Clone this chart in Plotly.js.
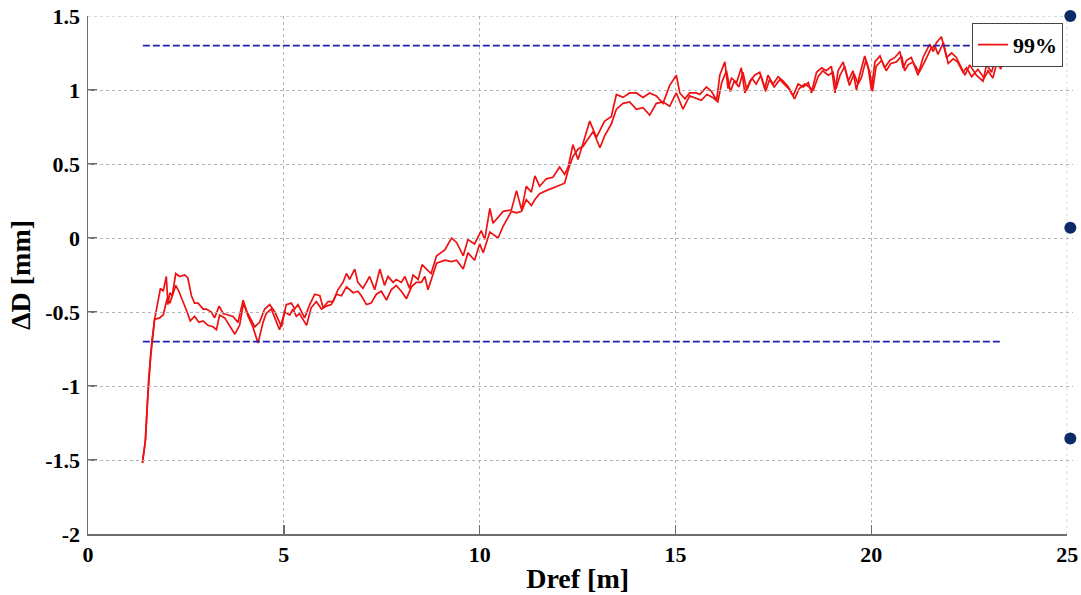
<!DOCTYPE html>
<html>
<head>
<meta charset="utf-8">
<script src="https://cdn.plot.ly/plotly-3.0.1.min.js"></script>
<style>html,body{margin:0;padding:0;background:#fff;}#chart{width:1081px;height:595px;}</style>
</head>
<body>
<div id="chart"></div>
<script>
// ---- data ----
const lineA_x = [1.39,1.42,1.46,1.52,1.60,1.70,1.85,1.92,2.00,2.04,2.09,2.15,2.24,2.34,2.47,2.55,2.64,2.72,2.81,2.94,3.02,3.15,3.23,3.35,3.45,3.58,3.70,3.83,3.96,4.06,4.17,4.26,4.38,4.51,4.64,4.77,4.94,5.06,5.19,5.28,5.36,5.45,5.53,5.66,5.79,5.92,6.00,6.13,6.26,6.38,6.51,6.60,6.68,6.81,6.89,7.02,7.11,7.19,7.32,7.45,7.57,7.66,7.79,7.87,8.00,8.09,8.21,8.30,8.43,8.53,8.64,8.76,8.90,9.11,9.28,9.41,9.58,9.70,9.87,10.04,10.13,10.26,10.34,10.60,10.81,10.94,11.07,11.19,11.32,11.41,11.53,11.70,11.87,12.04,12.17,12.26,12.38,12.51,12.64,12.81,12.98,13.19,13.36,13.49,13.66,13.83,14.00,14.17,14.34,14.51,14.68,14.85,15.02,15.11,15.24,15.36,15.53,15.62,15.79,15.92,16.05,16.13,16.26,16.34,16.43,16.56,16.68,16.77,16.90,17.02,17.15,17.28,17.36,17.49,17.62,17.75,17.88,18.00,18.13,18.26,18.39,18.47,18.60,18.73,18.85,18.98,19.07,19.15,19.28,19.41,19.53,19.62,19.70,19.83,19.92,20.00,20.09,20.22,20.34,20.47,20.60,20.73,20.81,20.90,21.02,21.19,21.32,21.49,21.58,21.66,21.79,21.92,22.05,22.17,22.30,22.39,22.51,22.68,22.85,22.94,23.07,23.19,23.28,23.38];
const lineA_y = [-1.52,-1.45,-1.38,-1.10,-0.80,-0.55,-0.34,-0.36,-0.26,-0.45,-0.37,-0.39,-0.24,-0.26,-0.25,-0.27,-0.39,-0.44,-0.44,-0.48,-0.48,-0.50,-0.54,-0.46,-0.51,-0.52,-0.53,-0.57,-0.42,-0.50,-0.55,-0.60,-0.57,-0.48,-0.45,-0.50,-0.60,-0.45,-0.44,-0.48,-0.45,-0.50,-0.54,-0.45,-0.38,-0.39,-0.47,-0.43,-0.43,-0.35,-0.30,-0.24,-0.28,-0.21,-0.30,-0.34,-0.30,-0.26,-0.35,-0.21,-0.32,-0.26,-0.30,-0.28,-0.30,-0.26,-0.34,-0.25,-0.28,-0.18,-0.21,-0.24,-0.12,-0.08,0.00,-0.03,-0.12,-0.01,-0.04,0.05,-0.01,0.20,0.10,0.18,0.19,0.32,0.19,0.35,0.31,0.42,0.35,0.40,0.41,0.48,0.43,0.48,0.63,0.53,0.64,0.79,0.68,0.79,0.82,0.97,0.95,0.98,0.98,0.95,0.98,0.96,0.91,1.03,1.10,0.98,0.94,0.98,0.98,0.97,1.02,0.99,0.93,1.10,1.19,1.01,1.08,1.05,1.15,0.98,1.06,1.10,1.12,1.01,1.10,1.04,1.09,1.06,1.02,0.96,1.04,1.02,1.05,0.98,1.12,1.15,1.13,1.16,0.98,1.13,1.19,1.06,1.13,1.00,1.10,1.23,1.15,1.00,1.19,1.23,1.15,1.20,1.22,1.26,1.15,1.20,1.22,1.10,1.22,1.31,1.26,1.32,1.36,1.22,1.25,1.22,1.15,1.10,1.17,1.10,1.06,1.17,1.12,1.24,1.17,1.16];

const lineB_x = [1.39,1.43,1.47,1.55,1.63,1.70,1.83,1.92,2.02,2.09,2.17,2.24,2.32,2.43,2.53,2.61,2.72,2.83,2.94,3.06,3.19,3.28,3.36,3.49,3.62,3.75,3.87,3.97,4.09,4.21,4.34,4.47,4.55,4.68,4.77,4.89,5.02,5.15,5.23,5.32,5.40,5.58,5.70,5.83,5.96,6.09,6.21,6.34,6.47,6.60,6.77,6.89,6.98,7.11,7.23,7.36,7.49,7.62,7.74,7.87,8.00,8.13,8.26,8.38,8.51,8.60,8.68,8.90,9.11,9.28,9.41,9.58,9.70,9.87,10.00,10.09,10.26,10.47,10.60,10.81,10.94,11.07,11.19,11.32,11.41,11.53,11.70,11.87,12.04,12.17,12.26,12.38,12.51,12.64,12.77,12.90,13.07,13.19,13.36,13.49,13.66,13.83,14.00,14.17,14.34,14.51,14.68,14.85,15.02,15.19,15.36,15.53,15.66,15.80,15.95,16.08,16.18,16.30,16.40,16.50,16.62,16.72,16.82,16.95,17.06,17.18,17.30,17.40,17.52,17.66,17.80,17.92,18.04,18.16,18.30,18.42,18.52,18.64,18.76,18.90,19.02,19.10,19.20,19.32,19.44,19.56,19.66,19.74,19.86,19.96,20.03,20.12,20.26,20.38,20.50,20.64,20.77,20.85,20.94,21.06,21.22,21.36,21.52,21.62,21.70,21.84,21.96,22.09,22.20,22.34,22.43,22.56,22.72,22.88,22.98,23.10,23.22,23.30,23.35];
const lineB_y = [-1.52,-1.42,-1.36,-0.95,-0.70,-0.55,-0.54,-0.52,-0.41,-0.44,-0.37,-0.32,-0.36,-0.43,-0.50,-0.56,-0.53,-0.57,-0.56,-0.59,-0.60,-0.62,-0.52,-0.54,-0.60,-0.65,-0.59,-0.44,-0.53,-0.60,-0.71,-0.57,-0.51,-0.48,-0.54,-0.62,-0.50,-0.52,-0.48,-0.53,-0.51,-0.59,-0.47,-0.43,-0.48,-0.46,-0.45,-0.38,-0.39,-0.33,-0.37,-0.36,-0.39,-0.45,-0.44,-0.38,-0.36,-0.42,-0.35,-0.32,-0.36,-0.41,-0.33,-0.30,-0.30,-0.26,-0.35,-0.17,-0.15,-0.16,-0.15,-0.21,-0.10,-0.15,-0.04,-0.10,0.04,0.00,0.08,0.18,0.17,0.18,0.26,0.22,0.26,0.30,0.32,0.34,0.36,0.37,0.46,0.55,0.60,0.62,0.67,0.72,0.61,0.69,0.77,0.87,0.91,0.92,0.87,0.88,0.83,0.91,0.92,0.89,0.98,0.87,0.96,0.94,0.93,0.97,0.95,0.92,1.05,1.13,0.99,1.06,1.02,1.12,1.00,1.08,1.04,1.10,0.99,1.07,1.02,1.07,1.03,1.00,0.94,1.01,1.04,1.02,1.00,1.09,1.13,1.10,1.12,1.01,1.10,1.16,1.03,1.11,1.04,1.08,1.20,1.12,0.99,1.16,1.20,1.13,1.18,1.19,1.23,1.13,1.17,1.19,1.12,1.19,1.28,1.30,1.24,1.32,1.18,1.21,1.19,1.12,1.15,1.09,1.14,1.08,1.13,1.08,1.20,1.14,1.18];

const limit_x = [1.40, 23.36];
const upperLimit = [1.30, 1.30];
const lowerLimit = [-0.70, -0.70];

const dot_x = [25.08, 25.08, 25.08];
const dot_y = [1.50, 0.07, -1.355];

const xRange = [0, 25];
const yRange = [-2, 1.5];
const xTickVals = [0, 5, 10, 15, 20, 25];
const xTickText = ["0", "5", "10", "15", "20", "25"];
const yTickVals = [-2, -1.5, -1, -0.5, 0, 0.5, 1, 1.5];
const yTickText = ["-2", "-1.5", "-1", "-0.5", "0", "0.5", "1", "1.5"];

const legendName = "99%";
const xTitle = "Dref [m]";
const yTitle = "ΔD [mm]";

// ---- chart ----
const FONT = "'Liberation Serif', 'Times New Roman', serif";
const red = "#ee1111";
const blue = "#2222aa";
const grid = "#b4b4b4";

// main x axis occupies part of the width; a hidden helper axis spans the full width
const mainFrac = 979.2 / 985;

const traces = [
  {x: lineA_x, y: lineA_y, type: "scatter", mode: "lines", name: legendName,
   line: {color: red, width: 1.7}, showlegend: true},
  {x: lineB_x, y: lineB_y, type: "scatter", mode: "lines", name: legendName,
   line: {color: red, width: 1.7}, showlegend: false},
  {x: limit_x, y: upperLimit, type: "scatter", mode: "lines", showlegend: false,
   line: {color: blue, width: 1.8, dash: "7px,3px"}},
  {x: limit_x, y: lowerLimit, type: "scatter", mode: "lines", showlegend: false,
   line: {color: blue, width: 1.8, dash: "7px,3px"}},
  {x: dot_x, y: dot_y, type: "scatter", mode: "markers", showlegend: false,
   cliponaxis: false, xaxis: "x2", yaxis: "y", marker: {color: "#0b2a66", size: 12}}
];

const axisCommon = {
  showline: true, linecolor: "#6e6e6e", linewidth: 1.5,
  ticks: "inside", ticklen: 9, tickcolor: "#6e6e6e", tickwidth: 1.5,
  showgrid: true, gridcolor: grid, griddash: "dot", gridwidth: 1,
  zeroline: false, mirror: false,
  tickfont: {family: FONT, size: 22, color: "#000", weight: "bold"}
};

const layout = {
  width: 1081, height: 595,
  margin: {l: 88, r: 8, t: 16, b: 61},
  paper_bgcolor: "#fff", plot_bgcolor: "rgba(0,0,0,0)",
  font: {family: FONT, color: "#000"},
  xaxis: Object.assign({}, axisCommon, {
    domain: [0, mainFrac],
    range: xRange, tickmode: "array", tickvals: xTickVals, ticktext: xTickText,
    title: {text: "<b>" + xTitle + "</b>", font: {family: FONT, size: 28, color: "#000"}, standoff: 2}
  }),
  xaxis2: {anchor: "y", domain: [0, 1], range: [0, xRange[1] / mainFrac],
           visible: false, showgrid: false, zeroline: false},
  yaxis: Object.assign({}, axisCommon, {
    range: yRange, tickmode: "array", tickvals: yTickVals, ticktext: yTickText,
    ticklabelstandoff: 2,
    title: {text: "<b>" + yTitle + "</b>", font: {family: FONT, size: 28, color: "#000"}, standoff: 6}
  }),
  shapes: [
    {type: "line", xref: "x", yref: "y", x0: xRange[1], x1: xRange[1], y0: yRange[0], y1: yRange[1],
     line: {color: grid, width: 1, dash: "dot"}, layer: "below"},
    {type: "line", xref: "x", yref: "y", x0: xRange[0], x1: xRange[1], y0: yRange[1], y1: yRange[1],
     line: {color: grid, width: 1, dash: "dot"}, layer: "below"}
  ],
  legend: {
    x: (972 - 88) / 985, y: 0.987, xanchor: "left", yanchor: "top",
    bgcolor: "#fff", bordercolor: "#444", borderwidth: 1,
    font: {family: FONT, size: 22, color: "#000", weight: "bold"},
    itemwidth: 30, tracegroupgap: 0
  },
  showlegend: true
};

Plotly.newPlot("chart", traces, layout, {staticPlot: true, displayModeBar: false});
</script>
</body>
</html>
